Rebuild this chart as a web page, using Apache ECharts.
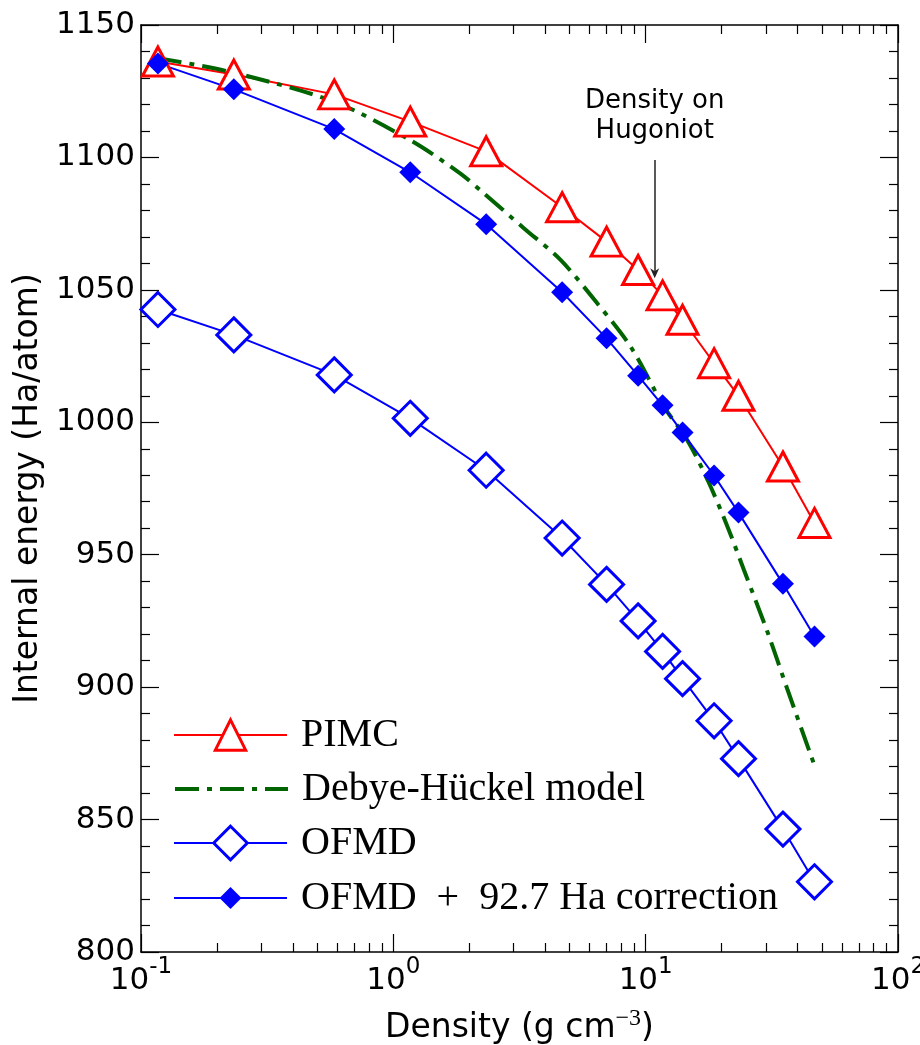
<!DOCTYPE html>
<html>
<head>
<meta charset="utf-8">
<script src="https://cdn.jsdelivr.net/npm/echarts@6.0.0/dist/echarts.min.js"></script>
<style>
  html, body { margin: 0; padding: 0; background: #fff; }
  #chart { width: 920px; height: 1045px; }
</style>
</head>
<body>
<div id="chart"></div>
<script>
// densities (g/cm^3) of the simulation points
const density = [0.1167, 0.2333, 0.5833, 1.167, 2.333, 4.667, 7.0, 9.333, 11.67, 14.0, 18.67, 23.33, 35.0, 46.67];
// internal energies (Ha/atom)
const pimc = [1136.2, 1131.3, 1123.8, 1113.5, 1102.3, 1081.2, 1068.2, 1057.5, 1047.9, 1038.7, 1022.3, 1010.0, 983.3, 962.0];
const ofmd = [1042.6, 1033.0, 1017.9, 1001.5, 981.9, 956.3, 938.8, 925.0, 913.5, 903.2, 887.3, 873.0, 846.4, 826.5];
const ofmdCorrected = [1135.5, 1125.7, 1110.7, 1094.4, 1074.8, 1049.1, 1031.7, 1017.6, 1006.4, 996.1, 979.9, 965.9, 939.0, 919.1];
// Debye-Hückel model curve
const dhDensity = [0.1167, 0.2333, 0.5833, 1.167, 1.84, 2.28, 3.29, 4.60, 6.43, 8.71, 11.82, 14.6, 17.6, 21.1, 24.5, 30.4, 36.5, 46.6];
const dhEnergy = [1137.5, 1132.0, 1121.0, 1106.5, 1094.0, 1086.5, 1073.3, 1061.3, 1044.9, 1028.6, 1005.9, 993.3, 978.2, 960.6, 944.3, 920.8, 899.0, 870.6];

const xMajorTicks = [0.1, 1, 10, 100];
const xMinorTicks = [0.2, 0.3, 0.4, 0.5, 0.6, 0.7, 0.8, 0.9, 2, 3, 4, 5, 6, 7, 8, 9, 20, 30, 40, 50, 60, 70, 80, 90];
// "Density on Hugoniot" arrow
const hugoniotDensity = 10.86;
const arrowFrom = 1099.0;
const arrowTo = 1056.3;

const RED = '#ff0000';
const BLUE = '#0000ff';
const GREEN = '#006400';
const SANS = 'DejaVu Sans';
const SERIF = 'Liberation Serif';

const chart = echarts.init(document.getElementById('chart'));

const gridRect = { left: 141, top: 25, right: 22, bottom: 93 };
const axisLine = { show: true, lineStyle: { color: '#000', width: 1.5 } };
const tickStyle = { color: '#000', width: 1.2 };

function pairs(xs, ys) {
  return xs.map((x, i) => [x, ys[i]]);
}

function xAxisDef(gridIndex, position, ticks, len, withLabels) {
  return {
    type: 'log', logBase: 10, min: 0.1, max: 100,
    gridIndex: gridIndex, position: position,
    axisLine: len > 10 ? axisLine : { show: false },
    axisTick: { show: true, inside: true, length: len, customValues: ticks, lineStyle: tickStyle },
    axisLabel: withLabels ? {
      show: true, margin: 4, customValues: ticks,
      formatter: v => '{b|10}{s|' + Math.round(Math.log10(v)) + '}',
      rich: {
        b: { fontFamily: SANS, fontSize: 31, lineHeight: 40, verticalAlign: 'bottom', color: '#000' },
        s: { fontFamily: SANS, fontSize: 23, color: '#000', verticalAlign: 'top' }
      }
    } : { show: false },
    splitLine: { show: false }
  };
}

function yAxisDef(position, withLabels) {
  return {
    type: 'value', min: 800, max: 1150, interval: 50,
    gridIndex: 0, position: position,
    axisLine: axisLine,
    axisTick: { show: true, inside: true, length: 18, lineStyle: tickStyle },
    minorTick: { show: true, splitNumber: 5, length: 9, lineStyle: tickStyle },
    axisLabel: withLabels ? {
      show: true, margin: 6, fontFamily: SANS, fontSize: 31, color: '#000',
      formatter: v => String(v)
    } : { show: false },
    splitLine: { show: false }
  };
}

const xName = {
  name: '{a|Density (g cm}{s|\u22123}{a|)}',
  nameLocation: 'middle', nameGap: 55,
  nameTextStyle: {
    rich: {
      a: { fontFamily: SANS, fontSize: 33, lineHeight: 38, verticalAlign: 'bottom', color: '#000' },
      s: { fontFamily: SERIF, fontSize: 24, color: '#000', verticalAlign: 'top' }
    }
  }
};

const legendText = { fontFamily: SERIF, fontSize: 40, color: '#000', padding: [0, 0, 0, 9] };

function legendDef(name, top, itemHeight, itemStyle, lineStyle) {
  return {
    data: [name], left: 173, top: top, orient: 'vertical', padding: 0,
    itemWidth: 113, itemHeight: itemHeight, selectedMode: false,
    textStyle: legendText, itemStyle: itemStyle, lineStyle: lineStyle
  };
}

const option = {
  animation: false,
  backgroundColor: '#fff',
  grid: [
    Object.assign({ outerBoundsMode: 'none', containLabel: false }, gridRect),
    Object.assign({ outerBoundsMode: 'none', containLabel: false }, gridRect)
  ],
  xAxis: [
    Object.assign(xAxisDef(0, 'bottom', xMajorTicks, 18, true), xName),
    xAxisDef(0, 'top', xMajorTicks, 18, false),
    xAxisDef(1, 'bottom', xMinorTicks, 9, false),
    xAxisDef(1, 'top', xMinorTicks, 9, false)
  ],
  yAxis: [
    Object.assign(yAxisDef('left', true), {
      name: 'Internal energy (Ha/atom)', nameLocation: 'middle', nameGap: 96,
      nameTextStyle: { fontFamily: SANS, fontSize: 33, color: '#000' }
    }),
    yAxisDef('right', false),
    { type: 'value', min: 800, max: 1150, gridIndex: 1, show: false }
  ],
  legend: [
    legendDef('PIMC', 715, 38, { color: '#fff', borderColor: RED, borderWidth: 3 }, { color: RED, width: 2 }),
    legendDef('Debye-Hückel model', 769, 20, { opacity: 0 }, { color: GREEN, width: 4, type: [24, 8, 5, 8] }),
    legendDef('OFMD', 823, 42, { color: '#fff', borderColor: BLUE, borderWidth: 3 }, { color: BLUE, width: 2 }),
    legendDef('OFMD  +  92.7 Ha correction', 878, 27.5, { color: BLUE, borderWidth: 0 }, { color: BLUE, width: 2 })
  ],
  series: [
    {
      name: 'PIMC', type: 'line', xAxisIndex: 0, yAxisIndex: 0,
      data: pairs(density, pimc),
      symbol: 'triangle', symbolSize: [31, 29], showAllSymbol: true,
      lineStyle: { color: RED, width: 2 },
      itemStyle: { color: '#fff', borderColor: RED, borderWidth: 3 },
      markLine: {
        silent: true, animation: false,
        symbol: ['none', 'path://M5,0 L10,10 L5,7 L0,10 Z'], symbolSize: [9, 10],
        lineStyle: { color: '#222', width: 1.5, type: 'solid' },
        label: {
          show: true, position: 'start', distance: 14,
          formatter: 'Density on\nHugoniot',
          fontFamily: SANS, fontSize: 26, lineHeight: 30, color: '#000'
        },
        data: [[{ coord: [hugoniotDensity, arrowFrom] }, { coord: [hugoniotDensity, arrowTo] }]]
      }
    },
    {
      name: 'Debye-Hückel model', type: 'line', xAxisIndex: 0, yAxisIndex: 0,
      data: pairs(dhDensity, dhEnergy),
      symbol: 'none', smooth: 0.3,
      lineStyle: { color: GREEN, width: 4, type: [24, 8, 5, 8] },
      itemStyle: { color: GREEN }
    },
    {
      name: 'OFMD', type: 'line', xAxisIndex: 0, yAxisIndex: 0,
      data: pairs(density, ofmd),
      symbol: 'diamond', symbolSize: 34, showAllSymbol: true,
      lineStyle: { color: BLUE, width: 2 },
      itemStyle: { color: '#fff', borderColor: BLUE, borderWidth: 3 }
    },
    {
      name: 'OFMD  +  92.7 Ha correction', type: 'line', xAxisIndex: 0, yAxisIndex: 0,
      data: pairs(density, ofmdCorrected),
      symbol: 'diamond', symbolSize: 22, showAllSymbol: true,
      lineStyle: { color: BLUE, width: 2 },
      itemStyle: { color: BLUE, borderWidth: 0 }
    }
  ]
};

chart.setOption(option);
</script>
</body>
</html>
